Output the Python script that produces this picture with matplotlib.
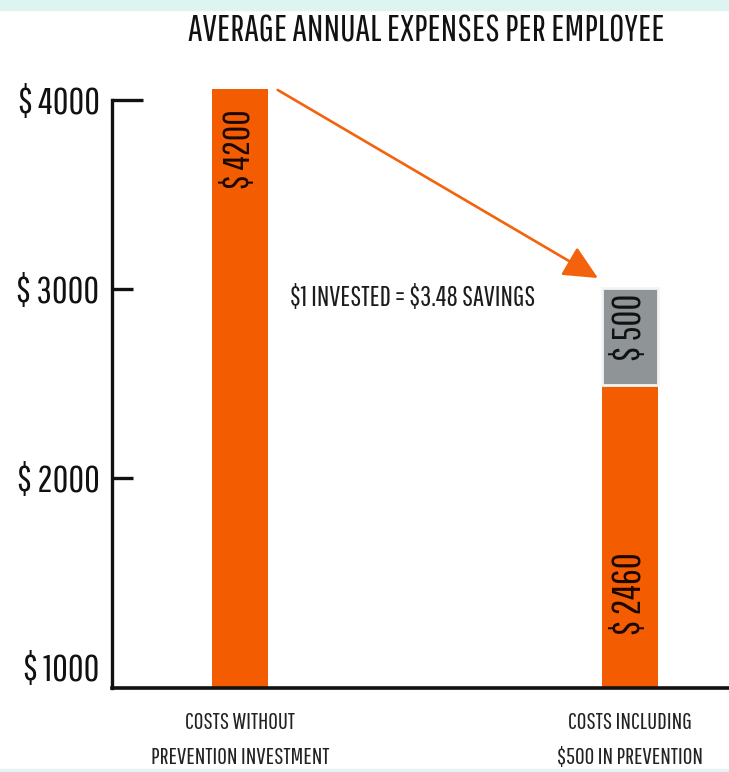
import matplotlib
matplotlib.use("Agg")
import matplotlib.pyplot as plt
from matplotlib.patches import Rectangle

# valores (alturas dibujadas, no las etiquetas)
categorias = ["COSTS WITHOUT\nPREVENTION INVESTMENT", "COSTS INCLUDING\n$500 IN PREVENTION"]
costos = [4060, 2490]          # barras naranjas
prevencion = [0, 515]          # segmento gris encima de la segunda barra
etiquetas_costos = ["$ 4200", "$ 2460"]
etiqueta_prevencion = "$ 500"
yticks = [1000, 2000, 3000, 4000]
ytick_labels = ["$ 1000", "$ 2000", "$ 3000", "$ 4000"]
titulo = "AVERAGE ANNUAL EXPENSES PER EMPLOYEE"
nota = "$1 INVESTED = $3.48 SAVINGS"

NARANJA = "#f35c00"
GRIS = "#8f9497"
FUENTE = ["Pathway Gothic One", "DejaVu Sans"]
BASE = 889   # valor del eje x (la linea base queda debajo de $1000)

plt.rcParams["font.family"] = FUENTE
plt.rcParams["text.parse_math"] = False

fig = plt.figure(figsize=(7.29, 7.72), dpi=100)
W, H = 729, 772

# franjas cyan arriba y abajo
fig.patches.append(Rectangle((0, 1 - 10 / H), 1, 10 / H, transform=fig.transFigure,
                             color="#ddf4f1", zorder=0))
fig.patches.append(Rectangle((0, 0), 1, 3 / H, transform=fig.transFigure,
                             color="#e3f3f1", zorder=0))

# ejes: spine izq en x=112, base en y=688, $4000 en y=100
ax = fig.add_axes([112 / W, (H - 688) / H, 1 - 112 / W, (688 - 100) / H])
ax.set_ylim(BASE, 4000)
ax.set_xlim(-0.328, 1.254)

x = [0, 1]
ancho = 0.145
alturas = [c - BASE for c in costos]
ax.bar(x, alturas, width=ancho, bottom=BASE, color=NARANJA, clip_on=False, zorder=2)
ax.bar(x[1], prevencion[1], width=ancho, bottom=costos[1], color=GRIS,
       edgecolor="#f4f4f4", linewidth=2.0, clip_on=False, zorder=2)

# etiquetas dentro de las barras
ax.annotate(etiquetas_costos[0], (x[0], costos[0]), xytext=(0, -15), textcoords="offset points",
            rotation=90, ha="center", va="top", fontsize=27, color="#1a0800",
            annotation_clip=False)
ax.annotate(etiqueta_prevencion, (x[1], costos[1] + prevencion[1]), xytext=(0, -4),
            textcoords="offset points", rotation=90, ha="center", va="top",
            fontsize=28, color="#111111", annotation_clip=False)
ax.annotate(etiquetas_costos[1], (x[1], BASE), xytext=(0, 38), textcoords="offset points",
            rotation=90, ha="center", va="bottom", fontsize=28, color="#1a0800",
            annotation_clip=False)

# flecha y nota
ax.annotate("", xy=(0.918, 3058), xytext=(0.097, 4053),
            arrowprops=dict(arrowstyle="-|>,head_length=1.05,head_width=0.5",
                            color="#f3620c", lw=1.9, mutation_scale=20,
                            shrinkA=0, shrinkB=0),
            annotation_clip=False)
ax.text(0.128, 2952, nota, ha="left", va="center", fontsize=20, color="#1c1c1c")

# ejes y ticks
for s in ["top", "right"]:
    ax.spines[s].set_visible(False)
ax.spines["left"].set_linewidth(2.4)
ax.spines["bottom"].set_linewidth(2.6)
ax.spines["left"].set_color("#111111")
ax.spines["bottom"].set_color("#111111")

ax.set_yticks(yticks)
ax.set_yticklabels(ytick_labels, fontsize=27.5, color="#111111")
ax.tick_params(axis="y", direction="in", length=15, width=2.4, pad=9, color="#111111")
ticks = ax.yaxis.get_major_ticks()
ticks[0].tick1line.set_visible(False)
ticks[-1].tick1line.set_markersize(22)

ax.set_xticks(x)
ax.set_xticklabels(categorias, fontsize=17, color="#222222", linespacing=1.85)
ax.tick_params(axis="x", length=0, pad=17)

fig.text(426 / W, 1 - 31 / H, titulo, ha="center", va="center", fontsize=26.5, color="#111111")

fig.savefig("out.png", dpi=100, facecolor="white")
